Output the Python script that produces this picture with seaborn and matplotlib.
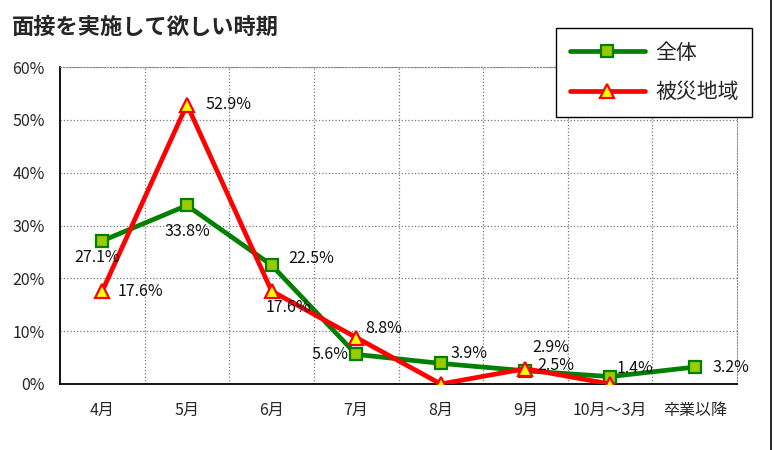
import matplotlib
matplotlib.use("Agg")
import matplotlib.pyplot as plt
import numpy as np
import pandas as pd
import seaborn as sns

# data
categories = ["4月", "5月", "6月", "7月", "8月", "9月", "10月～3月", "卒業以降"]
zentai = [27.1, 33.8, 22.5, 5.6, 3.9, 2.5, 1.4, 3.2]
hisai = [17.6, 52.9, 17.6, 8.8, 0.0, 2.9, 0.0, np.nan]

# label offsets in pixels (layout only)
zentai_off = [(-5, -17), (0, -26), (40, 7), (-26, 0), (28, 10), (30, 5), (25, 8), (36, 0)]
hisai_off = [(38, 0), (42, 0), (17, -16), (28, 9), None, (25, 21), None, None]

sns.set_theme(style="white")
plt.rcParams['font.family'] = ['Noto Sans CJK JP', 'DejaVu Sans']

df = pd.DataFrame({"x": np.arange(len(categories)), "全体": zentai, "被災地域": hisai})

fig = plt.figure(figsize=(7.79, 4.5), dpi=100)
ax = fig.add_axes([60 / 779, 66 / 450, 677 / 779, 317 / 450])

sns.lineplot(data=df, x="x", y="全体", ax=ax, color="#008000", lw=3.4,
             marker="s", markersize=9, markerfacecolor="#99cc00",
             markeredgecolor="#008000", markeredgewidth=1.6, label="全体", zorder=3)
sns.lineplot(data=df.dropna(), x="x", y="被災地域", ax=ax, color="#ff0000", lw=3.4,
             marker="^", markersize=10, markerfacecolor="#ffff00",
             markeredgecolor="#ff0000", markeredgewidth=1.6, label="被災地域", zorder=4)

for i, v in enumerate(zentai):
    ax.annotate(f"{v:.1f}%", (i, v), xytext=zentai_off[i], textcoords="offset pixels",
                ha="center", va="center", fontsize=11.5, color="#111111", zorder=6)
for i, v in enumerate(hisai):
    if hisai_off[i] is None:
        continue
    ax.annotate(f"{v:.1f}%", (i, v), xytext=hisai_off[i], textcoords="offset pixels",
                ha="center", va="center", fontsize=11.5, color="#111111", zorder=6)

ax.set_xlim(-0.5, len(categories) - 0.5)
ax.set_ylim(0, 60)
ax.set_yticks(range(0, 61, 10))
ax.set_yticklabels([f"{t}%" for t in range(0, 61, 10)], fontsize=11.5)
ax.set_xticks(np.arange(len(categories)))
ax.set_xticklabels(categories, fontsize=11.5)
ax.tick_params(axis="x", length=0, pad=13)
ax.tick_params(axis="y", length=0, pad=11)
ax.set_xticks(np.arange(len(categories) - 1) + 0.5, minor=True)
ax.tick_params(axis="x", which="minor", length=4, direction="in", color="black", width=1)
ax.set_xlabel("")
ax.set_ylabel("")

ax.grid(True, axis="y", which="major", color="#777777", linestyle=":", lw=0.9)
ax.grid(True, axis="x", which="minor", color="#777777", linestyle=":", lw=0.9)
ax.grid(False, axis="x", which="major")
ax.set_axisbelow(True)

for side in ["left", "bottom"]:
    ax.spines[side].set_color("black")
    ax.spines[side].set_linewidth(1.3)
for side in ["top", "right"]:
    ax.spines[side].set_color("#888888")
    ax.spines[side].set_linewidth(0.8)
    ax.spines[side].set_linestyle(":")

leg = ax.legend(loc="upper right", bbox_to_anchor=(752 / 779, 1 - 28 / 450),
                bbox_transform=fig.transFigure, fontsize=15, frameon=True,
                fancybox=False, edgecolor="black", framealpha=1,
                handlelength=3.6, borderpad=0.65, labelspacing=0.85, handletextpad=0.5,
                borderaxespad=0)
leg.get_frame().set_linewidth(1.0)
leg.set_zorder(10)

fig.text(12 / 779, 1 - 27 / 450, "面接を実施して欲しい時期", fontsize=16,
         fontweight="bold", ha="left", va="center")

fig.add_artist(plt.Line2D([771 / 779, 771 / 779], [0, 1], color="black", lw=1.2,
                          transform=fig.transFigure))

fig.savefig("out.png", dpi=100)
